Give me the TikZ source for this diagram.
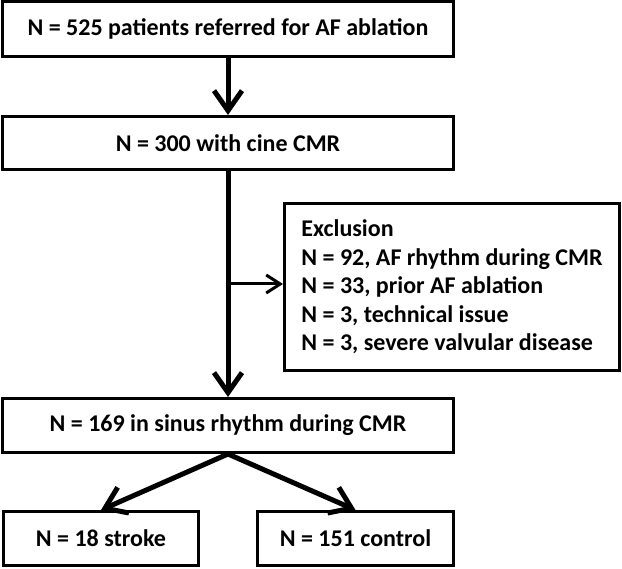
\documentclass[tikz,border=0pt]{standalone}
\usepackage{fontspec}
\newfontfamily\cfont{Carlito}[BoldFont={* Bold}]
\usetikzlibrary{arrows.meta}
\tikzset{
  box/.style={draw, line width=3pt, rectangle, inner sep=0pt, align=center,
    font=\cfont\bfseries\fontsize{24}{28.5}\selectfont},
  bigarrow/.style={line width=5pt, -{Straight Barb[length=20pt,width=28pt]}},
  sidearrow/.style={line width=3pt, -{Straight Barb[length=14pt,width=18pt]}}
}
\begin{document}
\begin{tikzpicture}[x=1pt,y=-1pt]
\useasboundingbox (0,0) rectangle (622,569);
\node[box, minimum width=451pt, minimum height=55pt] (b1) at (228,29) {N = 525 patients referred for AF ablation};
\node[box, minimum width=451pt, minimum height=53pt] (b2) at (228,143) {N = 300 with cine CMR};
\node[box, minimum width=335pt, minimum height=167pt, align=left] (ex) at (452,287) {Exclusion\\N = 92, AF rhythm during CMR\\N = 33, prior AF ablation\\N = 3, technical issue\\N = 3, severe valvular disease};
\node[box, minimum width=451pt, minimum height=54pt] (b3) at (228,425.5) {N = 169 in sinus rhythm during CMR};
\node[box, minimum width=195pt, minimum height=54pt] (b4) at (101,538.5) {N = 18 stroke};
\node[box, minimum width=196pt, minimum height=54pt] (b5) at (355.5,538.5) {N = 151 control};
\coordinate (br) at (228,284);
\draw[bigarrow] (b1.south) -- (b2.north);
\draw[bigarrow] (b2.south) -- (b3.north);
\draw[sidearrow] (br) -- (br -| ex.west);
\draw[bigarrow] (b3.south) -- (b4.north);
\draw[bigarrow] (b3.south) -- (b5.north);
\end{tikzpicture}
\end{document}
